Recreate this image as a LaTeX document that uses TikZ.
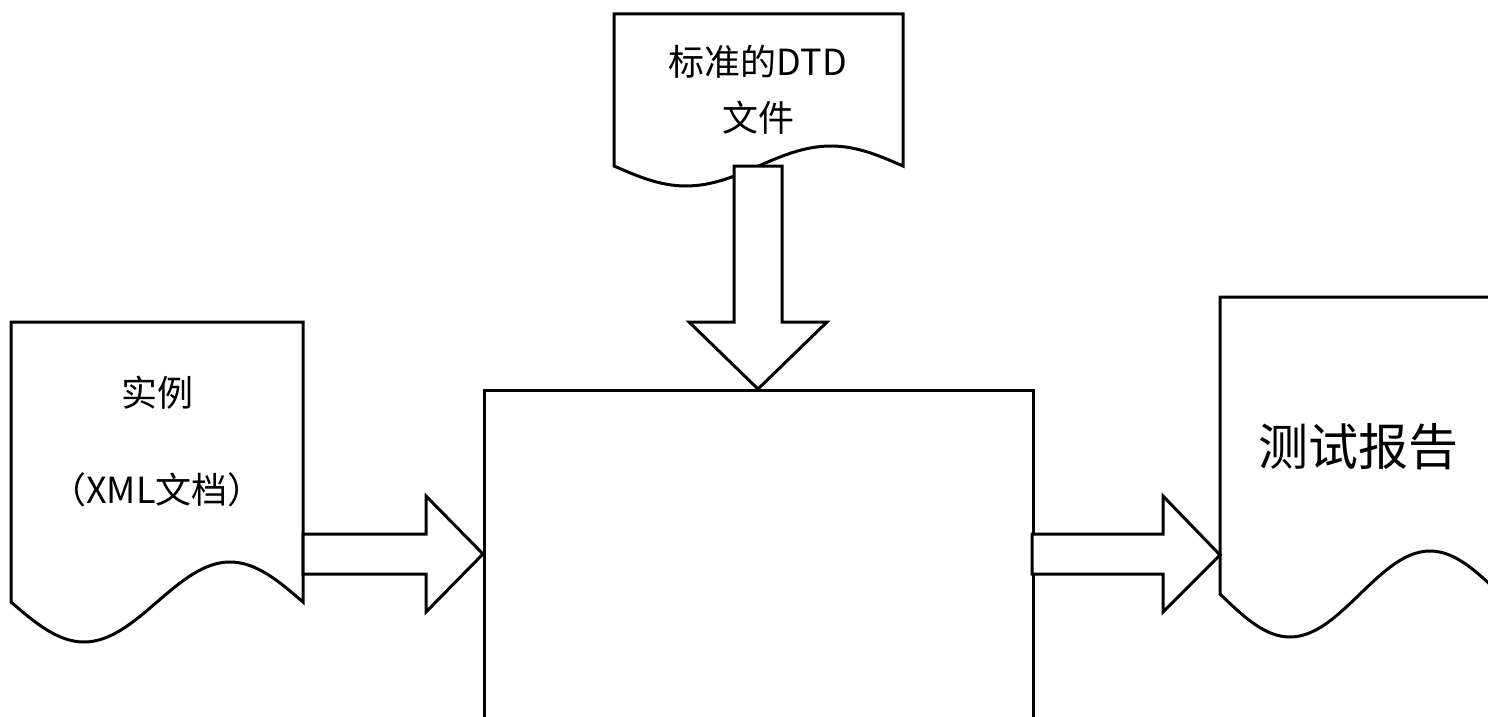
\documentclass[tikz,border=0pt]{standalone}
\usepackage{fontspec}
\newfontfamily\cjk{Noto Sans CJK SC}
\begin{document}
\begin{tikzpicture}[x=1pt,y=-1pt,line width=3pt,line join=miter,
  docshape/.style={draw=black,fill=white},
  blockarrow/.style={draw=black,fill=white},
  lbl/.style={font=\cjk\fontsize{36}{56}\selectfont,align=center,inner sep=0pt},
  biglbl/.style={font=\cjk\fontsize{50}{60}\selectfont,inner sep=0pt}]
\clip (0,0) rectangle (1488,717);
\fill[white] (0,0) rectangle (1488,717);
% documents
\draw[docshape] (11,602) sin (84,642) cos (157,602) sin (230,562) cos (303,602)
  -- (303,322) -- (11,322) -- cycle;
\draw[docshape] (614,166) sin (686,186) cos (758.5,166) sin (831,146) cos (903,166)
  -- (903,14) -- (614,14) -- cycle;
\draw[docshape] (1220,594) sin (1290,637) cos (1360,594) sin (1430,551) cos (1500,594)
  -- (1500,297) -- (1220,297) -- cycle;
% process box
\node[draw=black,fill=white,minimum width=549pt,minimum height=380pt,anchor=north west,inner sep=0pt] (proc) at (483,389) {};
% named coordinates
\coordinate (docL) at (303,554);
\coordinate (docT) at (758,166);
\coordinate (docR) at (1220,555);
\coordinate (procW) at (483,554);
\coordinate (procN) at (758,389);
\coordinate (procE) at (1032,554);
% block arrows
\draw[blockarrow] (docL) ++(0,-20) -- (426,534) -- (426,496) -- (procW) -- (426,612) -- (426,574) -- (303,574) -- cycle;
\draw[blockarrow] (procE) ++(0,-20) -- (1163,534) -- (1163,496) -- (docR) -- (1163,612) -- (1163,574) -- (1032,574) -- cycle;
\draw[blockarrow] (docT) ++(-24,0) -- (782,166) -- (782,322) -- (827,322) -- (procN) -- (689,322) -- (734,322) -- cycle;
% labels
\node[lbl] (tlabel) at (758,90) {标准的DTD\\文件};
\node[lbl] (llabel1) at (157,393) {实例};
\node[lbl] (llabel2) at (157,490) {（XML文档）};
\node[biglbl] (rlabel) at (1358,447) {测试报告};
\end{tikzpicture}
\end{document}
